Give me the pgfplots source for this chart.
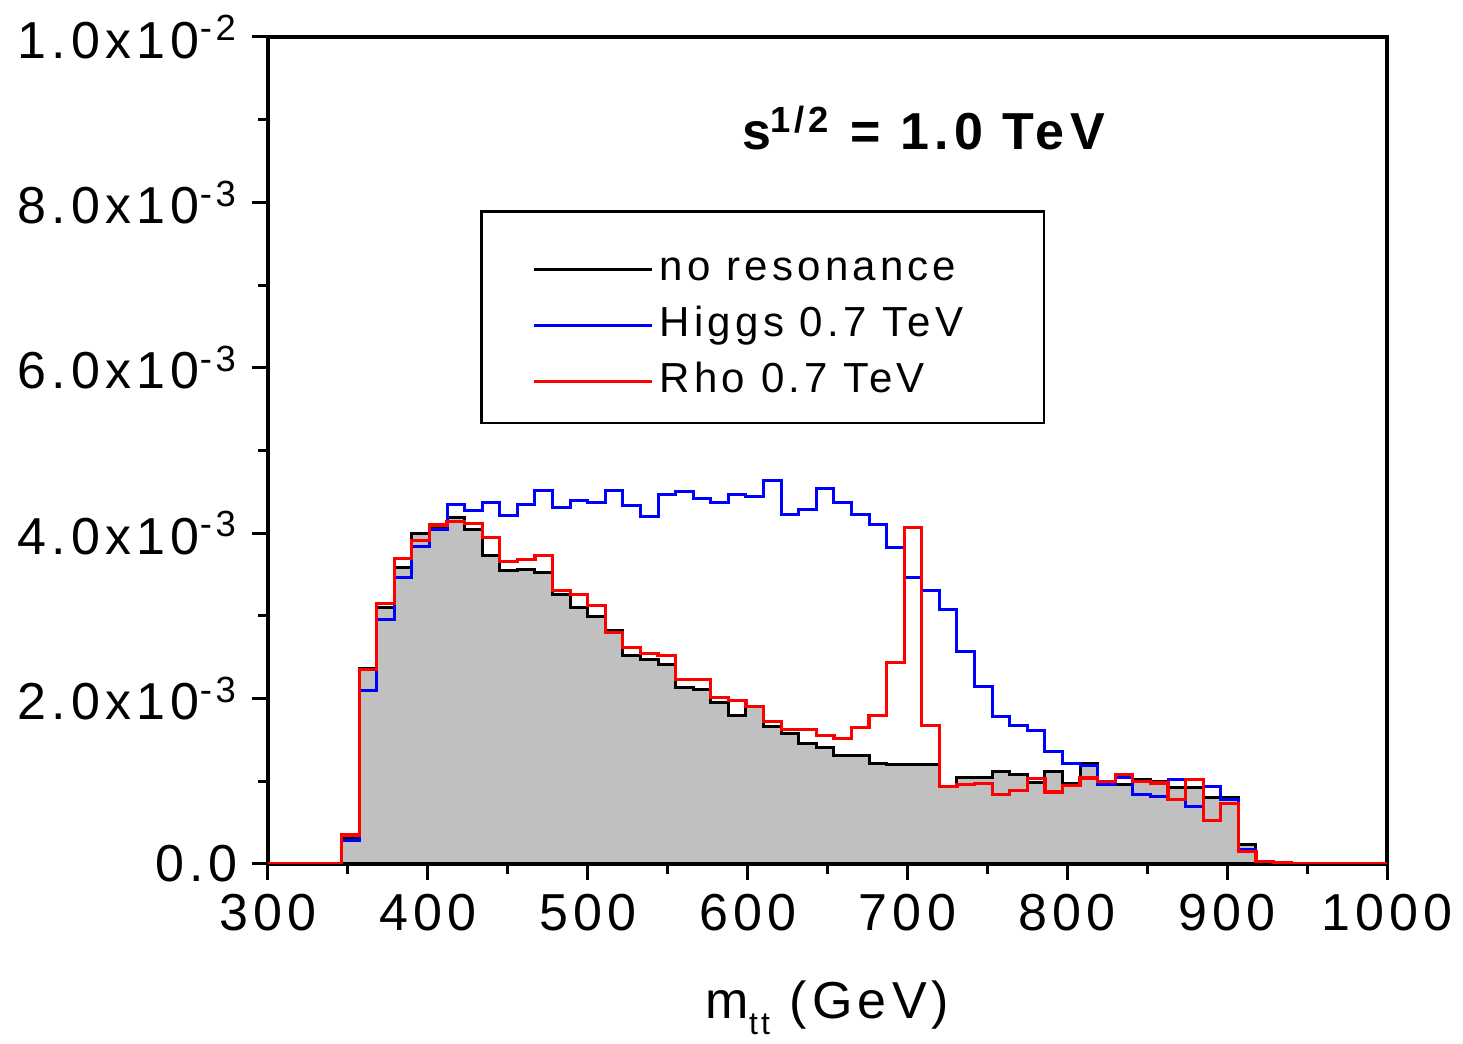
\documentclass[border=0pt]{standalone}
\usepackage{fontspec}
\setmainfont{Liberation Sans}[LetterSpace=10]
\usepackage{pgfplots}
\pgfplotsset{compat=1.18}
\definecolor{histgray}{RGB}{192,192,192}
\begin{document}
\begin{tikzpicture}
\begin{axis}[
  name=ax,
  scale only axis,
  width=279.75pt, height=206.75pt,
  xmin=300, xmax=1000, ymin=0, ymax=10,
  xtick={300,400,...,1000},
  xticklabels={300,400,500,600,700,800,900,1000},
  minor x tick num=1,
  ytick={0,2,4,6,8,10},
  yticklabels={0.0, 2.0x10\textsuperscript{-3}, 4.0x10\textsuperscript{-3}, 6.0x10\textsuperscript{-3}, 8.0x10\textsuperscript{-3}, 1.0x10\textsuperscript{-2}},
  minor y tick num=1,
  tick align=outside,
  xtick pos=bottom, ytick pos=left,
  major tick length=4pt, minor tick length=2.5pt,
  every tick/.style={black, line width=0.75pt},
  axis line style={line width=0.9pt},
  tick label style={font=\fontsize{13}{15}\selectfont},
  xlabel={m\raisebox{-0.6ex}{\fontsize{8}{9}\selectfont tt} (GeV)},
  label style={font=\fontsize{13}{15}\selectfont},
  xlabel style={yshift=-5.5pt},
  legend style={draw=none, fill=none, at={(axis cs:465.2,7.52)}, anchor=north west,
    inner sep=0pt, row sep=0.5pt,
    nodes={inner sep=1.5pt, text height=8pt, text depth=2.5pt, font=\fontsize{10.5}{12}\selectfont},
    /tikz/every even column/.append style={column sep=1pt}},
  legend cell align=left,
  legend image code/.code={\draw[#1] (0pt,0pt) -- (29.5pt,0pt);},
]
\addplot[const plot mark left, draw=black, fill=histgray, line width=0.75pt, forget plot] coordinates {
(300,0)(346,0.32)(357,2.36)(368,3.10)(379,3.59)(390,4.00)(401,4.07)(412,4.19)(423,4.05)(434,3.73)(445,3.55)(456,3.56)(467,3.52)(478,3.26)(489,3.10)(500,2.99)(511,2.82)(522,2.52)(533,2.47)(544,2.41)(555,2.13)(566,2.11)(577,1.95)(588,1.80)(599,1.91)(610,1.66)(621,1.58)(632,1.46)(643,1.41)(654,1.31)(665,1.31)(676,1.21)(687,1.20)(698,1.20)(709,1.20)(720,0.94)(731,1.05)(742,1.05)(753,1.12)(764,1.08)(775,0.98)(786,1.12)(797,0.97)(808,1.21)(819,0.96)(830,0.96)(841,1.02)(852,1.00)(863,0.93)(874,0.93)(885,0.80)(896,0.80)(907,0.24)(918,0.03)(929,0.015)(940,0)(1000,0)
} \closedcycle;
\addplot[const plot mark left, draw=blue, line width=0.75pt, forget plot] coordinates {
(300,0)(346,0.28)(357,2.10)(368,2.96)(379,3.46)(390,3.84)(401,4.04)(412,4.35)(423,4.28)(434,4.37)(445,4.21)(456,4.35)(467,4.52)(478,4.31)(489,4.40)(500,4.37)(511,4.52)(522,4.34)(533,4.20)(544,4.47)(555,4.50)(566,4.42)(577,4.37)(588,4.47)(599,4.44)(610,4.64)(621,4.23)(632,4.29)(643,4.54)(654,4.37)(665,4.23)(676,4.10)(687,3.83)(698,3.46)(709,3.31)(720,3.08)(731,2.57)(742,2.15)(753,1.78)(764,1.67)(775,1.62)(786,1.36)(797,1.21)(808,1.19)(819,0.96)(830,1.05)(841,0.84)(852,0.82)(863,1.02)(874,0.70)(885,0.94)(896,0.78)(907,0.18)(918,0.03)(929,0.015)(940,0)(1000,0)
};
\addplot[const plot mark left, draw=red, line width=0.8pt, forget plot] coordinates {
(300,0)(346,0.35)(357,2.35)(368,3.15)(379,3.69)(390,3.91)(401,4.10)(412,4.14)(423,4.12)(434,3.95)(445,3.66)(456,3.68)(467,3.73)(478,3.31)(489,3.26)(500,3.13)(511,2.80)(522,2.62)(533,2.55)(544,2.52)(555,2.23)(566,2.23)(577,2.01)(588,1.98)(599,1.90)(610,1.72)(621,1.63)(632,1.63)(643,1.55)(654,1.52)(665,1.65)(676,1.80)(687,2.44)(698,4.07)(709,1.67)(720,0.94)(731,0.96)(742,0.97)(753,0.84)(764,0.89)(775,1.03)(786,0.87)(797,0.95)(808,1.04)(819,1.00)(830,1.08)(841,1.00)(852,0.98)(863,0.78)(874,1.02)(885,0.53)(896,0.73)(907,0.15)(918,0.03)(929,0.015)(940,0)(1000,0)
};
\addlegendimage{black, line width=0.75pt}
\addlegendentry{no resonance}
\addlegendimage{blue, line width=0.75pt}
\addlegendentry{Higgs 0.7 TeV}
\addlegendimage{red, line width=0.75pt}
\addlegendentry{Rho 0.7 TeV}
\draw[line width=0.6pt] (axis cs:433.6,5.33) rectangle (axis cs:785.4,7.89);
\node[font=\bfseries\fontsize{13}{15}\selectfont] at (axis cs:710,8.9) {s\textsuperscript{1/2} = 1.0 TeV};
\end{axis}
\pgfresetboundingbox
\path ([shift={(-67pt,-45pt)}]ax.south west) rectangle ([shift={(298.75pt,216pt)}]ax.south west);
\end{tikzpicture}
\end{document}
